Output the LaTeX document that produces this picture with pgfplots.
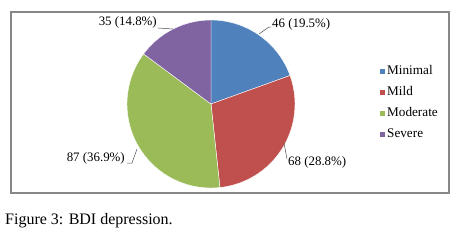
\documentclass[border=0pt]{standalone}
\usepackage{pgfplots}
\usepackage{pgfplotstable}
\pgfplotsset{compat=1.18}
\usepackage{fontspec}
\setmainfont{Liberation Serif}
\definecolor{cMin}{HTML}{4F81BD}
\definecolor{cMild}{HTML}{C0504D}
\definecolor{cMod}{HTML}{9BBB59}
\definecolor{cSev}{HTML}{8064A2}
\definecolor{frame}{HTML}{878787}
\pgfplotstableread{
label value
Minimal 46
Mild 68
Moderate 87
Severe 35
}\piedata
\begin{document}
\begin{tikzpicture}
\pgfplotstablegetelem{0}{value}\of\piedata \pgfmathsetmacro\vA{\pgfplotsretval}
\pgfplotstablegetelem{1}{value}\of\piedata \pgfmathsetmacro\vB{\pgfplotsretval}
\pgfplotstablegetelem{2}{value}\of\piedata \pgfmathsetmacro\vC{\pgfplotsretval}
\pgfplotstablegetelem{3}{value}\of\piedata \pgfmathsetmacro\vD{\pgfplotsretval}
\pgfmathsetmacro\tot{\vA+\vB+\vC+\vD}
\pgfmathsetmacro\aA{90-360*(\vA/\tot)}
\pgfmathsetmacro\aB{\aA-360*(\vB/\tot)}
\pgfmathsetmacro\aC{\aB-360*(\vC/\tot)}
\pgfmathsetmacro\aD{\aC-360*(\vD/\tot)}
\begin{axis}[
  x=1pt, y=1pt,
  xmin=11, xmax=449, ymin=54, ymax=235,
  ticks=none,
  axis line style={frame, line width=2pt},
  clip=false,
  legend style={at={(axis cs:380,182)}, anchor=north west, draw=none, fill=none,
    inner sep=0pt, font=\fontsize{13.2}{15}\selectfont, row sep=9pt,
    nodes={inner sep=0pt, text height=9pt, text depth=3pt, anchor=west},
    /tikz/every odd column/.style={column sep=2pt}},
  legend cell align=left,
  legend image code/.code={\fill[#1] (0pt,-2.5pt) rectangle (5pt,2.5pt);},
]
\path (axis cs:0,0) rectangle (axis cs:459,247);
\fill[cMin, draw=white, line width=0.4pt] (axis cs:211,143) -- ++(90:84pt) arc[start angle=90, end angle=\aA, radius=84pt] -- cycle;
\fill[cMild, draw=white, line width=0.4pt] (axis cs:211,143) -- ++(\aA:84pt) arc[start angle=\aA, end angle=\aB, radius=84pt] -- cycle;
\fill[cMod, draw=white, line width=0.4pt] (axis cs:211,143) -- ++(\aB:84pt) arc[start angle=\aB, end angle=\aC, radius=84pt] -- cycle;
\fill[cSev, draw=white, line width=0.4pt] (axis cs:211,143) -- ++(\aC:84pt) arc[start angle=\aC, end angle=\aD, radius=84pt] -- cycle;
\addlegendimage{fill=cMin, draw=none}\addlegendentry{Minimal}
\addlegendimage{fill=cMild, draw=none}\addlegendentry{Mild}
\addlegendimage{fill=cMod, draw=none}\addlegendentry{Moderate}
\addlegendimage{fill=cSev, draw=none}\addlegendentry{Severe}
% leader lines
\draw[black!70, line width=0.5pt] (axis cs:259,213) -- (axis cs:269,220) -- (axis cs:271,220);
\draw[black!70, line width=0.5pt] (axis cs:284,104) -- (axis cs:287,88);
\draw[black!70, line width=0.5pt] (axis cs:137,98) -- (axis cs:132,84) -- (axis cs:127,84);
\draw[black!70, line width=0.5pt] (axis cs:158,219) -- (axis cs:173,218);
% data labels
\node[anchor=west, inner sep=0pt, font=\fontsize{12.9}{14}\selectfont] at (axis cs:272,222.5) {46 (19.5\%)};
\node[anchor=west, inner sep=0pt, font=\fontsize{12.9}{14}\selectfont] at (axis cs:288,85) {68 (28.8\%)};
\node[anchor=east, inner sep=0pt, font=\fontsize{12.9}{14}\selectfont] at (axis cs:125,89) {87 (36.9\%)};
\node[anchor=east, inner sep=0pt, font=\fontsize{12.9}{14}\selectfont] at (axis cs:157,225) {35 (14.8\%)};
% caption
\node[anchor=base west, inner sep=0pt, font=\fontsize{16}{18}\selectfont] at (axis cs:5,23) {Figure 3: BDI depression.};
\end{axis}
\end{tikzpicture}
\end{document}
